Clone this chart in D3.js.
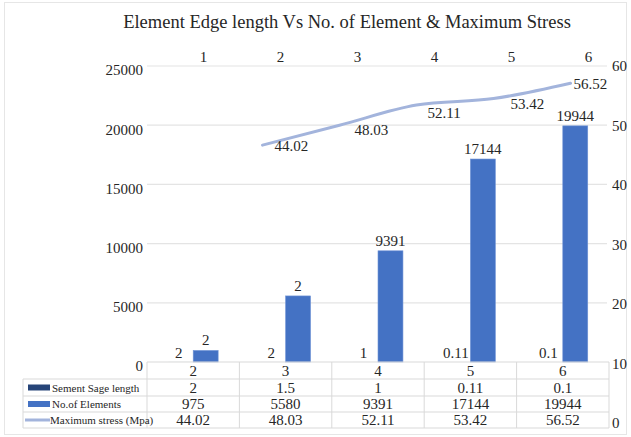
<!DOCTYPE html>
<html><head><meta charset="utf-8">
<script src="https://cdn.jsdelivr.net/npm/d3@7"></script>
<style>
body{margin:0;background:#fff}
</style>
</head><body>
<svg id="chart" width="631" height="437"></svg>
<script>
// ---- data ----
const categories = ["2", "3", "4", "5", "6"];
const topCategories = ["1", "2", "3", "4", "5", "6"];
const edgeLength = [2, 1.5, 1, 0.11, 0.1];
const edgeLengthLabels = ["2", "2", "1", "0.11", "0.1"];
const elementCount = [975, 5580, 9391, 17144, 19944];
const elementLabels = ["2", "2", "9391", "17144", "19944"];
const maxStress = [44.02, 48.03, 52.11, 53.42, 56.52];
const leftTicks = [0, 5000, 10000, 15000, 20000, 25000];
const rightTicks = [0, 10, 20, 30, 40, 50, 60];
const seriesNames = ["Sement Sage length", "No.of Elements", "Maximum stress (Mpa)"];
const titleText = "Element Edge length Vs No. of Element & Maximum Stress";

// ---- layout ----
const W = 631, H = 437;
const plotL = 147, plotR = 609, plotT = 66, plotB = 362;
const tableL = 23;
const rowEdges = [362, 379, 396, 412, 428];
const FONT = "'Liberation Serif', 'Times New Roman', Tinos, 'DejaVu Serif', Times, serif";
const colors = { s1: "#264478", s2: "#4472c4", s3: "#a3b4dc", grid: "#e4e4e4", table: "#d9d9d9", text: "#262626" };

const svg = d3.select("#chart").attr("font-family", FONT).style("font-family", FONT);

svg.append("rect").attr("x", 4.5).attr("y", 2.5).attr("width", W - 9).attr("height", H - 5)
  .attr("fill", "#fff").attr("stroke", "#e6e6e6");

// scales
const x = d3.scaleBand().domain(categories).range([plotL, plotR]).paddingInner(0.46).paddingOuter(0.23);
const xs = d3.scaleBand().domain([0, 1]).range([0, x.bandwidth()]);
const xTop = d3.scaleBand().domain(topCategories).range([plotL, plotR]);
const y = d3.scaleLinear().domain([0, 25000]).range([plotB, plotT]);
const yStress = d3.scaleLinear().domain([0, 60]).range([plotB + 1, plotT]);
const yRight = d3.scaleLinear().domain([0, 60]).range([423, plotT]);

// title
svg.append("text").attr("x", 347).attr("y", 28).attr("text-anchor", "middle")
  .style("font-size", "18.5px").attr("fill", colors.text).text(titleText);

// gridlines
svg.append("g").selectAll("line").data(leftTicks.filter(d => d > 0)).join("line")
  .attr("x1", plotL).attr("x2", plotR - 2)
  .attr("y1", d => y(d)).attr("y2", d => y(d))
  .attr("stroke", colors.grid).attr("stroke-width", 1.2);

function styleAxis(g) {
  g.attr("font-family", FONT);
  g.select(".domain").remove();
  g.selectAll("text").style("font-size", "15px").style("font-family", FONT).attr("fill", colors.text);
}

// left axis
svg.append("g").attr("transform", `translate(${plotL - 1},4)`)
  .call(d3.axisLeft(y).tickValues(leftTicks).tickSize(0).tickPadding(3).tickFormat(d3.format("d")))
  .call(styleAxis);

// right axis
svg.append("g").attr("transform", `translate(${plotR},0)`)
  .call(d3.axisRight(yRight).tickValues(rightTicks).tickSize(0).tickPadding(3))
  .call(styleAxis);

// top axis
svg.append("g").attr("transform", `translate(18,62)`)
  .call(d3.axisTop(xTop).tickSize(0).tickPadding(0))
  .call(styleAxis);

// bars
const gb = svg.append("g");
gb.selectAll("rect.s1").data(edgeLength).join("rect").attr("class", "s1")
  .attr("x", (d, i) => x(categories[i]) + xs(0)).attr("width", xs.bandwidth())
  .attr("y", d => y(d)).attr("height", d => y(0) - y(d)).attr("fill", colors.s1);
gb.selectAll("rect.s2").data(elementCount).join("rect").attr("class", "s2")
  .attr("x", (d, i) => x(categories[i]) + xs(1)).attr("width", xs.bandwidth())
  .attr("y", d => y(d)).attr("height", d => y(0) - y(d)).attr("fill", colors.s2)
  .attr("stroke", "#6f93d6").attr("stroke-width", 0.6);

// bar labels
gb.selectAll("text.l1").data(edgeLength).join("text").attr("class", "l1")
  .attr("x", (d, i) => x(categories[i]) + xs(0) + xs.bandwidth() / 2 - 2)
  .attr("y", d => y(d) - 4).attr("text-anchor", "middle").style("font-size", "15px")
  .attr("fill", colors.text).text((d, i) => edgeLengthLabels[i]);
gb.selectAll("text.l2").data(elementCount).join("text").attr("class", "l2")
  .attr("x", (d, i) => x(categories[i]) + xs(1) + xs.bandwidth() / 2)
  .attr("y", d => y(d) - 5).attr("text-anchor", "middle").style("font-size", "15px")
  .attr("fill", colors.text).text((d, i) => elementLabels[i]);

// stress line
const px = (d, i) => xTop(categories[i]) + xTop.bandwidth() / 2;
svg.append("path").datum(maxStress)
  .attr("d", d3.line().x(px).y(d => yStress(d)).curve(d3.curveMonotoneX))
  .attr("fill", "none").attr("stroke", colors.s3).attr("stroke-width", 3).attr("stroke-linecap", "round");
const stressDx = [12, 15, 11, 17, 3];
const stressDy = [6, 10, 13, 10, 6];
svg.append("g").selectAll("text").data(maxStress).join("text")
  .attr("x", (d, i) => px(d, i) + stressDx[i]).attr("y", (d, i) => yStress(d) + stressDy[i])
  .style("font-size", "15px").attr("fill", colors.text).text(d => d.toFixed(2));

// data table
const gtab = svg.append("g");
const colLeft = i => x.range()[0] + i * x.step();
const hl = [[plotL, plotR, rowEdges[0]]];
for (let r = 1; r < rowEdges.length; r++) hl.push([tableL, plotR, rowEdges[r]]);
gtab.selectAll("line.h").data(hl).join("line").attr("class", "h")
  .attr("x1", d => d[0]).attr("x2", d => d[1]).attr("y1", d => d[2]).attr("y2", d => d[2])
  .attr("stroke", colors.table);
const vl = [[tableL, rowEdges[1]]];
for (let i = 0; i <= categories.length; i++) vl.push([colLeft(i), rowEdges[0]]);
gtab.selectAll("line.v").data(vl).join("line").attr("class", "v")
  .attr("x1", d => d[0]).attr("x2", d => d[0]).attr("y1", d => d[1]).attr("y2", rowEdges[4])
  .attr("stroke", colors.table);

const rows = [
  categories,
  edgeLength.map(String),
  elementCount.map(String),
  maxStress.map(d => d.toFixed(2))
];
rows.forEach((row, r) => {
  gtab.append("g").selectAll("text").data(row).join("text")
    .attr("x", (d, i) => x(categories[i]) + x.bandwidth() / 2)
    .attr("y", rowEdges[r + 1] - 3)
    .attr("text-anchor", "middle").style("font-size", "15px").attr("fill", colors.text).text(d => d);
});

// legend keys in table
seriesNames.forEach((name, k) => {
  const cy = (rowEdges[k + 1] + rowEdges[k + 2]) / 2;
  if (k < 2) {
    gtab.append("rect").attr("x", 28).attr("y", cy - 3).attr("width", 22).attr("height", 6)
      .attr("fill", k === 0 ? colors.s1 : colors.s2);
  } else {
    gtab.append("line").attr("x1", 25).attr("x2", 50).attr("y1", cy).attr("y2", cy)
      .attr("stroke", colors.s3).attr("stroke-width", 3);
  }
  gtab.append("text").attr("x", k < 2 ? 52 : 50).attr("y", cy + 4)
    .style("font-size", "11px").attr("fill", colors.text).text(name);
});
</script>
</body></html>
